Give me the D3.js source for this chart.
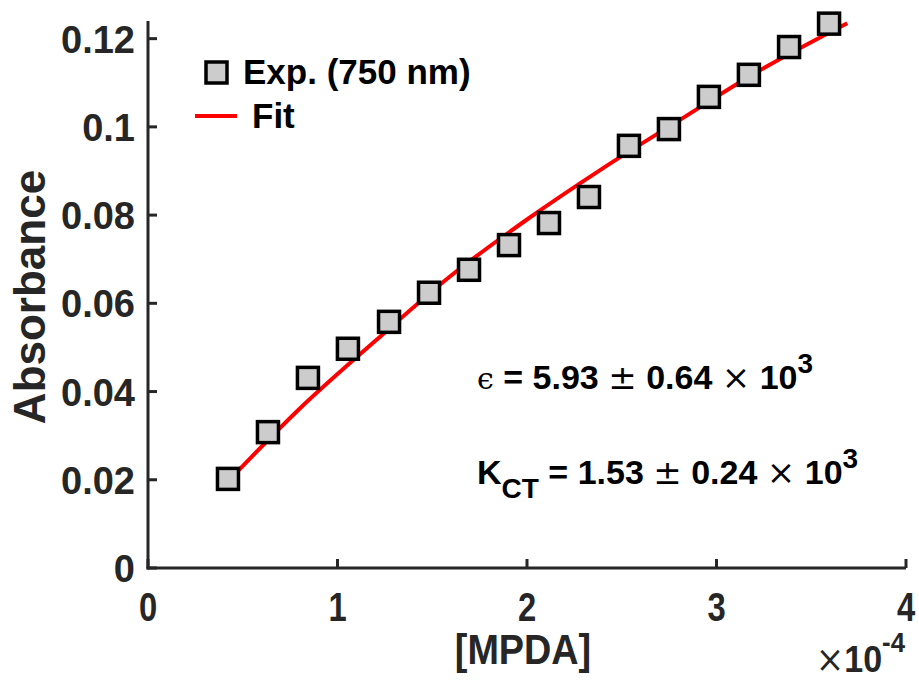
<!DOCTYPE html>
<html><head><meta charset="utf-8">
<script src="https://cdn.jsdelivr.net/npm/d3@7/dist/d3.min.js"></script>
<style>
body{margin:0;background:#fff;}
text{font-family:"Liberation Sans",Arial,sans-serif;font-weight:bold;fill:#000;}
</style></head>
<body>
<svg id="chart" width="919" height="681"></svg>
<script>
// Experimental data (x in units of 1e-4 M)
const expX = [0.422,0.633,0.844,1.055,1.272,1.483,1.694,1.905,2.116,2.327,2.538,2.749,2.960,3.171,3.383,3.594];
const expY = [0.0202,0.0308,0.0431,0.0497,0.0558,0.0624,0.0676,0.0732,0.0782,0.0841,0.0957,0.0995,0.1068,0.1118,0.1181,0.1234];
// Fit curve
const fitX = [0.41,0.8,1.2,1.6,2.0,2.4,2.8,3.2,3.69];
const fitY = [0.0191,0.0361,0.0515,0.0663,0.0790,0.0906,0.1014,0.1121,0.1235];
const xTicks = [0,1,2,3,4];
const yTicks = [0,0.02,0.04,0.06,0.08,0.1,0.12];
const yTickLabels = ["0","0.02","0.04","0.06","0.08","0.1","0.12"];
const legendLabels = ["Exp. (750 nm)","Fit"];

const svg = d3.select("#chart");
const x = d3.scaleLinear().domain([0,4]).range([148,906]);
const y = d3.scaleLinear().domain([0,0.124]).range([568,21]);
const axisColor = "#262626";

// axes lines
svg.append("line").attr("x1",x(0)).attr("x2",x(0)).attr("y1",y(0)+1.5).attr("y2",y(0.124))
  .attr("stroke",axisColor).attr("stroke-width",3);
svg.append("line").attr("x1",x(0)-1.5).attr("x2",x(4)).attr("y1",y(0)).attr("y2",y(0))
  .attr("stroke",axisColor).attr("stroke-width",3);

// ticks inward
svg.selectAll(".xt").data(xTicks).enter().append("line")
  .attr("x1",d=>x(d)).attr("x2",d=>x(d)).attr("y1",y(0)).attr("y2",y(0)-9)
  .attr("stroke",axisColor).attr("stroke-width",3);
svg.selectAll(".yt").data(yTicks).enter().append("line")
  .attr("x1",x(0)).attr("x2",x(0)+9).attr("y1",d=>y(d)).attr("y2",d=>y(d))
  .attr("stroke",axisColor).attr("stroke-width",3);

// tick labels (x labels slightly condensed as in the reference)
svg.selectAll(".xl").data(xTicks).enter().append("text")
  .attr("transform",d=>`translate(${x(d)},621) scale(0.82,1)`).attr("text-anchor","middle")
  .attr("font-size",40).style("fill",axisColor).text(d=>d);
svg.selectAll(".yl").data(yTicks).enter().append("text")
  .attr("x",135).attr("y",d=>y(d)+14).attr("text-anchor","end")
  .attr("font-size",38).style("fill",axisColor).text((d,i)=>yTickLabels[i]);

// axis labels
svg.append("text").attr("transform","translate(523,664) scale(0.9,1)").attr("text-anchor","middle")
  .attr("font-size",42).style("fill",axisColor).text("[MPDA]");
const ex = svg.append("text").attr("transform","translate(905,672) scale(0.92,1)").attr("text-anchor","end").attr("font-size",37).style("fill",axisColor);
ex.append("tspan").attr("font-family","DejaVu Serif, serif").attr("font-weight","normal").text("×");
ex.append("tspan").text("10");
ex.append("tspan").attr("dy",-20).attr("font-size",28).text("-4");

svg.append("text").attr("transform","translate(45,297) rotate(-90)")
  .attr("text-anchor","middle").attr("font-size",44).style("fill",axisColor).text("Absorbance");

// fit line
const line = d3.line().x((d,i)=>x(fitX[i])).y((d,i)=>y(fitY[i])).curve(d3.curveMonotoneX);
svg.append("path").datum(fitX).attr("d",line).attr("fill","none").attr("stroke","#ff0000").attr("stroke-width",4);

// markers
svg.selectAll(".pt").data(expX).enter().append("rect")
  .attr("x",(d)=>x(d)-10.5).attr("y",(d,i)=>y(expY[i])-10.5)
  .attr("width",21).attr("height",21)
  .attr("fill","#cccccc").attr("stroke","#000").attr("stroke-width",3.5);

// legend
svg.append("rect").attr("x",206).attr("y",62).attr("width",21).attr("height",21)
  .attr("fill","#cccccc").attr("stroke","#000").attr("stroke-width",3.5);
svg.append("text").attr("x",243).attr("y",84).attr("font-size",35).text(legendLabels[0]);
svg.append("line").attr("x1",195).attr("x2",237).attr("y1",116).attr("y2",116).attr("stroke","#ff0000").attr("stroke-width",4);
svg.append("text").attr("x",252).attr("y",128).attr("font-size",35).text(legendLabels[1]);

// annotations
function sym(t, s){ t.append("tspan").attr("font-family","DejaVu Serif, serif").attr("font-weight","normal").text(s); }
const a1 = svg.append("text").attr("x",477).attr("y",389).attr("font-size",34);
a1.append("tspan").attr("font-family","DejaVu Serif, serif").attr("font-weight","normal").attr("font-size",30).text("ϵ");
a1.append("tspan").text(" = 5.93 ");
sym(a1,"±");
a1.append("tspan").text(" 0.64 ");
sym(a1,"×");
a1.append("tspan").text(" 10");
a1.append("tspan").attr("dy",-16).attr("font-size",28).text("3");

const a2 = svg.append("text").attr("x",477).attr("y",484).attr("font-size",34);
a2.append("tspan").text("K");
a2.append("tspan").attr("dy",14).attr("font-size",28).text("CT");
a2.append("tspan").attr("dy",-14).text(" = 1.53 ");
sym(a2,"±");
a2.append("tspan").text(" 0.24 ");
sym(a2,"×");
a2.append("tspan").text(" 10");
a2.append("tspan").attr("dy",-16).attr("font-size",28).text("3");
</script>
</body></html>
